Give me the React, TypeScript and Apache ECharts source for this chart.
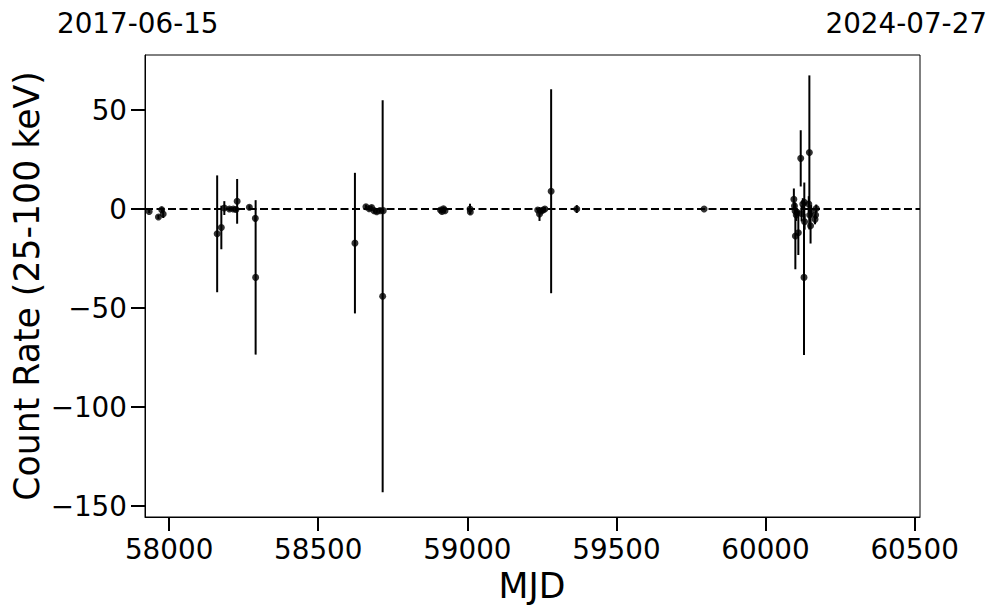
import React, { useEffect, useRef } from "react";
import * as echarts from "echarts";

const mjd = [
  57933, 57964, 57975, 57980,
  58161, 58175, 58185, 58202, 58215, 58224, 58228, 58269, 58289, 58290,
  58623, 58660, 58671, 58679, 58687, 58696, 58707, 58716, 58718,
  58910, 58915, 58920, 58925, 59009, 59010,
  59236, 59242, 59248, 59254, 59260, 59281, 59367,
  59794,
  60095, 60097, 60099, 60100, 60103, 60105, 60110, 60121, 60118, 60125,
  60129, 60130, 60131, 60145, 60147, 60148, 60151, 60153, 60166, 60170, 60168,
];
const rate = [
  -1.2, -4.0, -0.3, -2.5,
  -12.5, -9.3, 0.5, 0.0, 0.0, -0.2, 3.9, 0.9, -4.7, -34.5,
  -17.2, 1.2, 0.2, 0.8, -0.8, -1.4, -0.8, -44.0, -0.8,
  -0.5, -1.2, 0.2, -0.8, 0.0, -1.5,
  -0.5, -2.5, -1.0, -0.5, 0.0, 9.0, 0.0,
  0.0,
  4.9, 1.5, -1.0, -13.6, -3.0, -1.5, -12.0, -2.2, 25.6, 2.5,
  -34.5, 3.4, -6.4, 2.5, 28.6, -3.0, -8.4, -1.0, -5.2, 0.3, -3.0,
];
const rateErr = [
  0.8, 1.0, 1.2, 2.0,
  29.5, 11.0, 3.5, 1.0, 1.0, 1.0, 11.3, 1.0, 1.5, 39.0,
  35.5, 1.0, 1.0, 1.0, 1.0, 1.0, 1.0, 99.0, 1.0,
  1.0, 1.0, 1.0, 1.0, 2.7, 1.0,
  1.0, 3.5, 1.0, 1.0, 1.0, 51.5, 2.0,
  0.5,
  5.5, 2.0, 2.0, 16.8, 3.0, 2.0, 11.2, 4.0, 14.2, 3.0,
  39.2, 10.0, 4.0, 4.0, 38.9, 4.0, 9.0, 3.0, 2.5, 2.0, 2.0,
];

const xTicks = [58000, 58500, 59000, 59500, 60000, 60500];
const yTicks = [-150, -100, -50, 0, 50];
const xRange = [57919, 60518];
const yRange = [-155.5, 77.8];
const topLabels = ["2017-06-15", "2024-07-27"];

const FONT = "DejaVu Sans";
const fmt = (v: number) => (v < 0 ? "\u2212" + Math.abs(v) : String(v));

export default function App() {
  const ref = useRef<HTMLDivElement>(null);
  useEffect(() => {
    if (!ref.current) return;
    const chart = echarts.init(ref.current, undefined, { renderer: "svg" });
    const pts = mjd.map((m, i) => [m, rate[i], rateErr[i]]);
    chart.setOption({
      animation: false,
      backgroundColor: "#fff",
      grid: {
        left: 145,
        right: 77,
        top: 55,
        bottom: 96,
        containLabel: false,
        outerBoundsMode: "none",
        show: true,
        borderColor: "#000",
        borderWidth: 1,
        backgroundColor: "transparent",
      },
      xAxis: {
        type: "value",
        min: xRange[0],
        max: xRange[1],
        axisLine: { show: true, onZero: false, lineStyle: { color: "#000", width: 1 } },
        axisTick: { show: true, length: 14, lineStyle: { color: "#000", width: 2 }, customValues: xTicks },
        axisLabel: {
          customValues: xTicks,
          fontSize: 27.8,
          color: "#000",
          fontFamily: FONT,
          margin: 18,
          formatter: (v: number) => fmt(v),
        },
        splitLine: { show: false },
      },
      yAxis: {
        type: "value",
        min: yRange[0],
        max: yRange[1],
        axisLine: { show: true, onZero: false, lineStyle: { color: "#000", width: 1 } },
        axisTick: { show: true, length: 14, lineStyle: { color: "#000", width: 2 }, customValues: yTicks },
        axisLabel: {
          customValues: yTicks,
          fontSize: 27.8,
          color: "#000",
          fontFamily: FONT,
          margin: 18,
          formatter: (v: number) => fmt(v),
        },
        splitLine: { show: false },
      },
      series: [
        {
          type: "line",
          data: [[xRange[0], 0], [xRange[1], 0]],
          symbol: "none",
          lineStyle: { color: "#000", width: 2, type: [8, 3.5] },
          z: 1,
          silent: true,
        },
        {
          type: "custom",
          data: pts,
          z: 2,
          renderItem: (params: any, api: any) => {
            const x = api.value(0);
            const y = api.value(1);
            const e = api.value(2);
            const p1 = api.coord([x, y + e]);
            const p2 = api.coord([x, y - e]);
            return {
              type: "line",
              shape: { x1: p1[0], y1: p1[1], x2: p2[0], y2: p2[1] },
              style: { stroke: "#000", lineWidth: 2 },
            };
          },
        },
        {
          type: "scatter",
          data: pts.map((p) => [p[0], p[1]]),
          symbol: "circle",
          symbolSize: 7,
          itemStyle: { color: "#000" },
          z: 3,
        },
      ],
      graphic: [
        {
          type: "text",
          left: 57,
          top: 9,
          style: { text: topLabels[0], fontSize: 27.8, fontFamily: FONT, fill: "#000" },
        },
        {
          type: "text",
          right: 10,
          top: 9,
          style: { text: topLabels[1], fontSize: 27.8, fontFamily: FONT, fill: "#000" },
        },
        {
          type: "text",
          x: 532,
          y: 586,
          style: {
            text: "MJD",
            fontSize: 34.7,
            fontFamily: FONT,
            fill: "#000",
            textAlign: "center",
            textVerticalAlign: "middle",
          },
        },
        {
          type: "text",
          x: 27,
          y: 286,
          rotation: Math.PI / 2,
          style: {
            text: "Count Rate (25-100 keV)",
            fontSize: 34.7,
            fontFamily: FONT,
            fill: "#000",
            textAlign: "center",
            textVerticalAlign: "middle",
          },
        },
      ],
    });
    return () => chart.dispose();
  }, []);
  return (
    <div
      ref={ref}
      style={{ position: "fixed", left: 0, top: 0, width: 997, height: 613 }}
    />
  );
}
